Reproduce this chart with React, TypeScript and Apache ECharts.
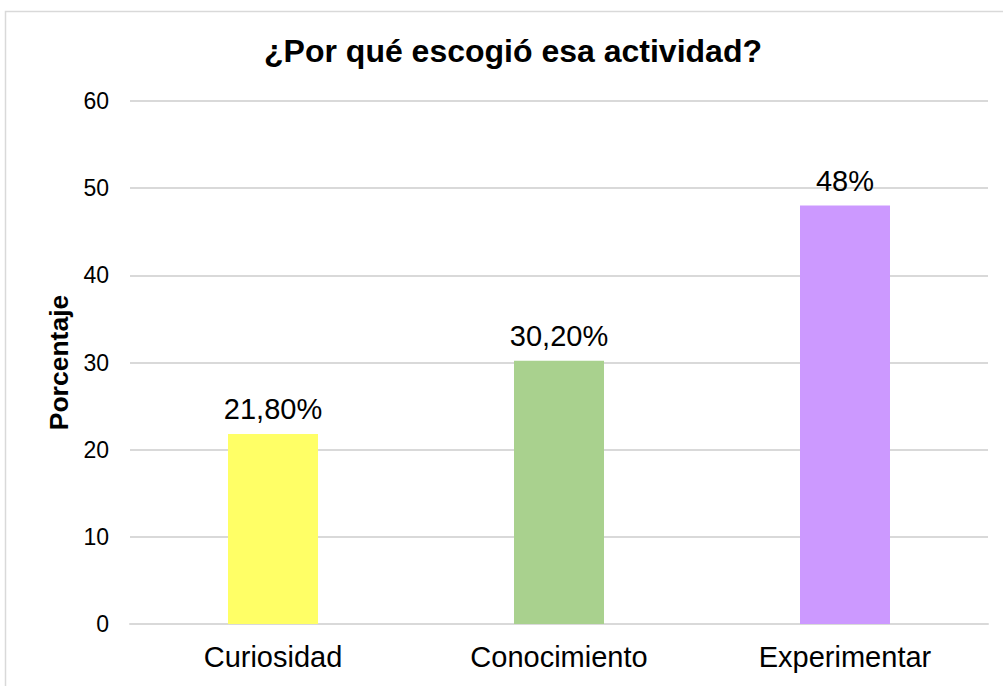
import React, { useEffect, useRef } from "react";
import * as echarts from "echarts";

const titleText = "¿Por qué escogió esa actividad?";
const categories = ["Curiosidad", "Conocimiento", "Experimentar"];
const values = [21.8, 30.2, 48];
const valueLabels = ["21,80%", "30,20%", "48%"];
const barColors = ["#FFFF66", "#A9D18E", "#CC99FF"];
const yAxisName = "Porcentaje";

const FONT = "'Liberation Sans', Arial, sans-serif";

export default function App() {
  const ref = useRef<HTMLDivElement>(null);
  useEffect(() => {
    if (!ref.current) return;
    const chart = echarts.init(ref.current, undefined, { renderer: "svg" });
    chart.setOption({
      animation: false,
      backgroundColor: "#ffffff",
      textStyle: { fontFamily: FONT },
      title: {
        text: titleText,
        left: 508,
        textAlign: "center",
        top: 30,
        textStyle: { fontFamily: FONT, fontSize: 32, fontWeight: "bold", color: "#000" },
      },
      graphic: [
        {
          type: "rect",
          shape: { x: 5.5, y: 11.5, width: 1020, height: 700 },
          style: { fill: "none", stroke: "#d9d9d9", lineWidth: 1.5 },
          silent: true,
        },
      ],
      grid: { left: 130, right: 15, top: 101, bottom: 62 },
      xAxis: {
        type: "category",
        data: categories,
        axisLine: { show: true, lineStyle: { color: "#d9d9d9", width: 2 } },
        axisTick: { show: false },
        axisLabel: { fontFamily: FONT, fontSize: 29, color: "#000", margin: 18 },
      },
      yAxis: {
        type: "value",
        min: 0,
        max: 60,
        interval: 10,
        name: yAxisName,
        nameLocation: "middle",
        nameGap: 56,
        nameRotate: 90,
        nameTextStyle: { fontFamily: FONT, fontSize: 26.5, fontWeight: "bold", color: "#000" },
        axisLine: { show: false },
        axisTick: { show: false },
        axisLabel: { fontFamily: FONT, fontSize: 23, color: "#000", margin: 21 },
        splitLine: { lineStyle: { color: "#d9d9d9", width: 2 } },
      },
      series: [
        {
          type: "bar",
          barWidth: 90,
          data: values.map((v, i) => ({ value: v, itemStyle: { color: barColors[i] } })),
          label: {
            show: true,
            position: "top",
            distance: 10,
            fontFamily: FONT,
            fontSize: 29,
            color: "#000",
            formatter: (p: any) => valueLabels[p.dataIndex],
          },
        },
      ],
    });
    return () => chart.dispose();
  }, []);
  return (
    <div
      ref={ref}
      style={{ position: "fixed", left: 0, top: 0, width: 1003, height: 686 }}
    />
  );
}
